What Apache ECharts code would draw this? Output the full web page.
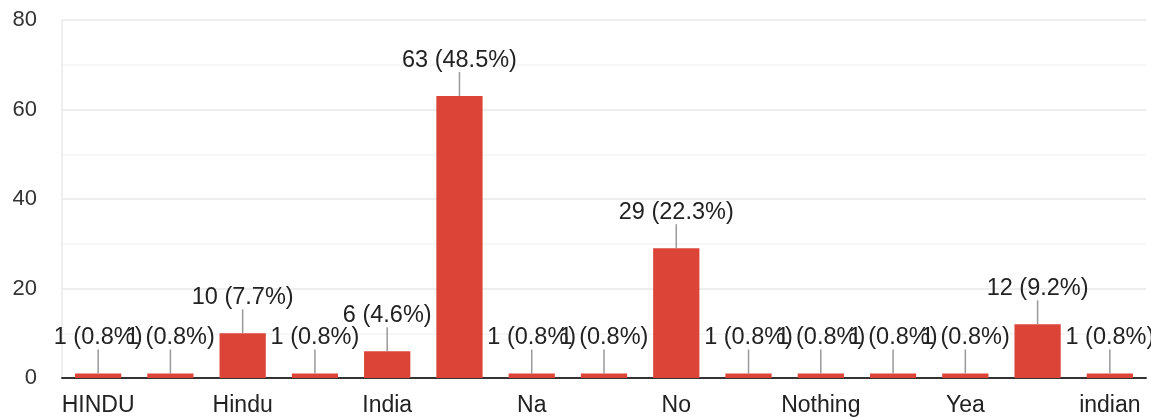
<!DOCTYPE html>
<html>
<head>
<meta charset="utf-8">
<script src="https://cdn.jsdelivr.net/npm/echarts@6/dist/echarts.min.js"></script>
<style>
html,body{margin:0;padding:0;background:#fff;}
#chart{width:1151px;height:419px;}
</style>
</head>
<body>
<div id="chart"></div>
<script>
const categories = ['HINDU','Hindi','Hindu','Hinduism','India','Indian','Na','Nah','No','None','Nothing','Other','Yea','Yes','indian'];
const counts = [1, 1, 10, 1, 6, 63, 1, 1, 29, 1, 1, 1, 1, 12, 1];
const yTicks = [0, 20, 40, 60, 80];

const total = counts.reduce((a, b) => a + b, 0);
const FONT = 'Arial, "Liberation Sans", sans-serif';

const chart = echarts.init(document.getElementById('chart'));
chart.setOption({
  animation: false,
  backgroundColor: '#fff',
  grid: { left: 62, right: 5, top: 20, bottom: 41 },
  xAxis: {
    type: 'category',
    data: categories,
    axisTick: { show: false },
    axisLine: { lineStyle: { color: '#333', width: 2 } },
    axisLabel: { interval: 1, color: '#222', fontSize: 23, fontFamily: FONT, margin: 16 },
    splitLine: { show: false }
  },
  yAxis: {
    type: 'value',
    min: yTicks[0],
    max: yTicks[yTicks.length - 1],
    interval: yTicks[1] - yTicks[0],
    axisLine: { show: true, lineStyle: { color: '#e8e8e8', width: 1.5 } },
    axisTick: { show: false },
    axisLabel: { color: '#333', fontSize: 22, fontFamily: FONT, margin: 25 },
    splitLine: { lineStyle: { color: '#e8e8e8', width: 1.5 } },
    minorTick: { show: false, splitNumber: 2 },
    minorSplitLine: { show: true, lineStyle: { color: '#f3f3f3', width: 1.5 } }
  },
  series: [
    {
      type: 'bar',
      data: counts,
      barWidth: '64%',
      itemStyle: { color: '#db4437' },
      z: 2
    },
    {
      type: 'custom',
      data: counts.map((v, i) => [i, v]),
      encode: { x: 0, y: 1 },
      z: 3,
      clip: false,
      renderItem: function (params, api) {
        const idx = api.value(0);
        const v = api.value(1);
        const p = api.coord([idx, v]);
        const txt = v + ' (' + (v / total * 100).toFixed(1) + '%)';
        return {
          type: 'group',
          children: [
            { type: 'line', shape: { x1: p[0], y1: p[1] - 24, x2: p[0], y2: p[1] },
              style: { stroke: '#999', lineWidth: 1.5 } },
            { type: 'text', style: { text: txt, x: p[0], y: p[1] - 36, align: 'center', verticalAlign: 'middle',
              font: '23.5px ' + FONT, fill: '#222' } }
          ]
        };
      }
    }
  ]
});
</script>
</body>
</html>
